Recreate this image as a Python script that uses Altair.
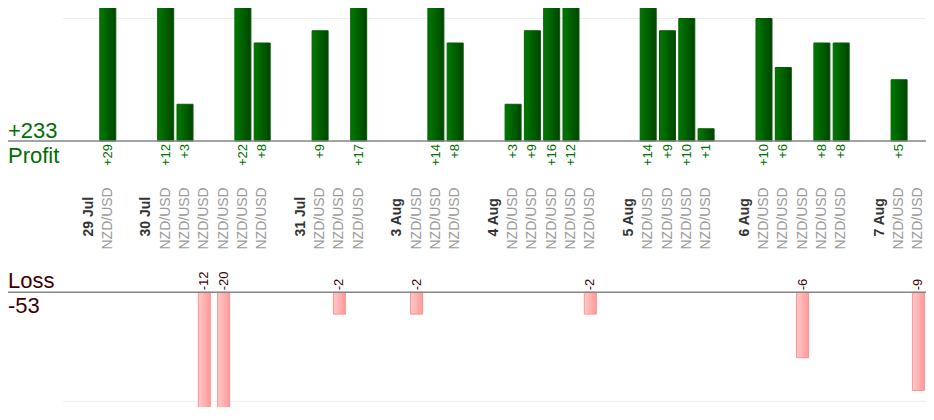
import altair as alt
import pandas as pd

# ---- data ----
days = ["29 Jul", "30 Jul", "31 Jul", "3 Aug", "4 Aug", "5 Aug", "6 Aug", "7 Aug"]
day_results = [
    [29],
    [12, 3, -12, -20, 22, 8],
    [9, -2, 17],
    [-2, 14, 8],
    [3, 9, 16, 12, -2],
    [14, 9, 10, 1],
    [10, 6, -6, 8, 8],
    [5, -9],
]
pair = "NZD/USD"

# ---- build slot table (date slot, trade slots, one empty gap slot) ----
rows = []
i = 0
for d, results in zip(days, day_results):
    rows.append({"slot": i, "label": d, "kind": "date", "result": 0})
    i += 1
    for r in results:
        rows.append({"slot": i, "label": pair, "kind": "trade", "result": r})
        i += 1
    i += 1
df = pd.DataFrame(rows)
df["base"] = 0
trades = df[df.kind == "trade"].copy()
dates = df[df.kind == "date"].copy()
wins = trades[trades.result > 0].copy()
wins["txt"] = "+" + wins.result.astype(int).astype(str)
losses = trades[trades.result < 0].copy()
losses["txt"] = losses.result.astype(int).astype(str)
total_win = int(wins.result.sum())
total_loss = int(losses.result.sum())

FONT = "Liberation Sans"
W, H = 918, 399

# x scale: slot index -> pixels
SLOT_PX = 19.3
X0 = 80.5
xs = alt.Scale(domain=[-X0 / SLOT_PX, (W - X0) / SLOT_PX], nice=False, zero=False, padding=0)

# top (profit) y scale
TB, TP = 133.0, 12.25
ys_top = alt.Scale(domain=[(TB - H) / TP, TB / TP], nice=False, zero=False, padding=0)
# bottom (loss) y scale
BB, BP = 284.3, 10.9
ys_bot = alt.Scale(domain=[(BB - H) / BP, BB / BP], nice=False, zero=False, padding=0)

X = alt.X("slot:Q", scale=xs, axis=None)

green = alt.Gradient(
    gradient="linear",
    stops=[alt.GradientStop(color="#007a00", offset=0),
           alt.GradientStop(color="#004400", offset=1)],
    x1=0, x2=1, y1=0, y2=0,
)
pink = alt.Gradient(
    gradient="linear",
    stops=[alt.GradientStop(color="#ffc8c8", offset=0),
           alt.GradientStop(color="#ff9a9a", offset=1)],
    x1=0, x2=1, y1=0, y2=0,
)

grid_top = alt.Chart(pd.DataFrame({"v": [10]})).mark_rule(color="#eeeeee", strokeWidth=1).encode(
    x=alt.value(55), x2=alt.value(W), y=alt.Y("v:Q", scale=ys_top, axis=None))
grid_bot = alt.Chart(pd.DataFrame({"v": [-10]})).mark_rule(color="#eeeeee", strokeWidth=1).encode(
    x=alt.value(55), x2=alt.value(W), y=alt.Y("v:Q", scale=ys_bot, axis=None))

bars_top = alt.Chart(wins).mark_bar(size=16, clip=True, fill=green, stroke="#005c00", strokeWidth=1).encode(
    x=X, y=alt.Y("result:Q", scale=ys_top, axis=None), y2="base:Q")
bars_bot = alt.Chart(losses).mark_bar(size=12, clip=True, fill=pink, stroke="#ff9090", strokeWidth=1).encode(
    x=X, y=alt.Y("result:Q", scale=ys_bot, axis=None), y2="base:Q")

base_top = alt.Chart(pd.DataFrame({"v": [0]})).mark_rule(color="#858585", strokeWidth=1.5).encode(
    x=alt.value(0), x2=alt.value(W), y=alt.Y("v:Q", scale=ys_top, axis=None))
base_bot = alt.Chart(pd.DataFrame({"v": [0]})).mark_rule(color="#858585", strokeWidth=1.5).encode(
    x=alt.value(0), x2=alt.value(W), y=alt.Y("v:Q", scale=ys_bot, axis=None))

lbl_win = alt.Chart(wins).mark_text(angle=270, align="right", baseline="middle", dx=-3,
                                    fontSize=13, font=FONT, color="#007000").encode(
    x=X, y=alt.Y("base:Q", scale=ys_top, axis=None), text="txt:N")
lbl_loss = alt.Chart(losses).mark_text(angle=270, align="left", baseline="middle", dx=2,
                                       fontSize=13, font=FONT, color="#3d0000").encode(
    x=X, y=alt.Y("base:Q", scale=ys_bot, axis=None), text="txt:N")

lbl_date = alt.Chart(dates).mark_text(angle=270, align="left", baseline="middle",
                                      fontSize=14, fontWeight="bold", font=FONT, color="#333333").encode(
    x=X, y=alt.value(228.5), text="label:N")
lbl_pair = alt.Chart(trades).mark_text(angle=270, align="left", baseline="middle",
                                       fontSize=14, font=FONT, color="#9a9a9a").encode(
    x=X, y=alt.value(241.5), text="label:N")

def side(txt, ypx, color):
    return alt.Chart(pd.DataFrame({"t": [txt]})).mark_text(
        align="left", baseline="alphabetic", fontSize=22, font=FONT, color=color).encode(
        x=alt.value(0), y=alt.value(ypx), text="t:N")

t1 = side(f"+{total_win}", 129.5, "#006f00")
t2 = side("Profit", 154.5, "#006f00")
t3 = side("Loss", 279.7, "#3d0000")
t4 = side(f"{total_loss}", 305.3, "#3d0000")

chart = alt.layer(
    grid_top, bars_top, base_top, lbl_win,
    grid_bot, bars_bot, base_bot, lbl_loss,
    lbl_date, lbl_pair, t1, t2, t3, t4,
).resolve_scale(y="independent").properties(
    width=W, height=H, padding=0, autosize=alt.AutoSizeParams(type="none"),
    background="white",
).configure_view(strokeWidth=0)

chart.save("out.html", embed_options={"renderer": "svg", "actions": False})
